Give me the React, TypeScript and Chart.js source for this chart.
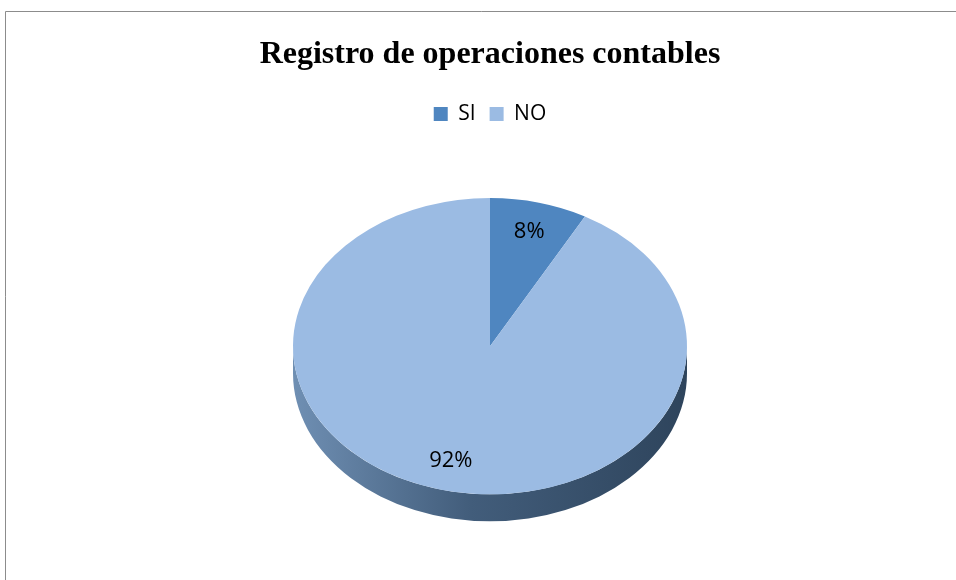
import React, { useEffect, useRef } from 'react';
import { Chart, registerables } from 'chart.js';

Chart.register(...registerables);

const TITLE = 'Registro de operaciones contables';
const categories = ['SI', 'NO'];
const values = [8, 92];
const sliceColors = ['#4f86c0', '#9bbbe3'];
const sideGradients = [
  ['#5a82ad', '#34597f', '#284566'],
  ['#6f8fb3', '#425d7b', '#2e445c'],
];

const SQUASH = 0.752;
const DEPTH = 27;
const LABEL_FONT = '"Open Sans", "Noto Sans", sans-serif';

const pie3d = {
  id: 'pie3d',
  beforeDraw(chart: any) {
    const ctx = chart.ctx;
    ctx.save();
    ctx.fillStyle = '#ffffff';
    ctx.fillRect(0, 0, chart.width, chart.height);
    ctx.strokeStyle = '#8c8c8c';
    ctx.lineWidth = 1;
    ctx.beginPath();
    ctx.moveTo(5.5, chart.height + 5);
    ctx.lineTo(5.5, 11.5);
    ctx.lineTo(chart.width + 5, 11.5);
    ctx.stroke();
    ctx.restore();
  },
  beforeDatasetsDraw(chart: any) {
    const ctx = chart.ctx;
    const arcs = chart.getDatasetMeta(0).data as any[];
    ctx.save();
    if (!arcs.length) return;
    const { x: cx, y: cy, outerRadius: r } = arcs[0];
    const ry = r * SQUASH;
    const TWO_PI = Math.PI * 2;
    arcs.forEach((arc: any, i: number) => {
      const { startAngle, endAngle } = arc;
      for (const k of [-1, 0, 1]) {
        const s = Math.max(startAngle, k * TWO_PI);
        const e = Math.min(endAngle, k * TWO_PI + Math.PI);
        if (e > s) {
          const a0 = s - k * TWO_PI;
          const a1 = e - k * TWO_PI;
          const g = ctx.createLinearGradient(cx - r, 0, cx + r, 0);
          const cols = sideGradients[i % sideGradients.length];
          g.addColorStop(0, cols[0]);
          g.addColorStop(0.45, cols[1]);
          g.addColorStop(1, cols[2]);
          ctx.beginPath();
          ctx.ellipse(cx, cy, r, ry, 0, a0, a1, false);
          ctx.ellipse(cx, cy + DEPTH, r, ry, 0, a1, a0, true);
          ctx.closePath();
          ctx.fillStyle = g;
          ctx.fill();
        }
      }
    });
    ctx.translate(cx, cy);
    ctx.scale(1, SQUASH);
    ctx.translate(-cx, -cy);
  },
  afterDatasetsDraw(chart: any) {
    const ctx = chart.ctx;
    ctx.restore();
    const arcs = chart.getDatasetMeta(0).data as any[];
    if (!arcs.length) return;
    const total = values.reduce((a, b) => a + b, 0);
    ctx.save();
    ctx.fillStyle = '#000000';
    ctx.font = `22px ${LABEL_FONT}`;
    ctx.textAlign = 'center';
    ctx.textBaseline = 'middle';
    arcs.forEach((arc: any, i: number) => {
      const mid = (arc.startAngle + arc.endAngle) / 2;
      const rr = arc.outerRadius * 0.8;
      const x = arc.x + rr * Math.cos(mid);
      const y = arc.y + rr * SQUASH * Math.sin(mid);
      ctx.fillText(`${Math.round((values[i] / total) * 100)}%`, x, y);
    });
    ctx.restore();
  },
};

export default function App() {
  const ref = useRef<HTMLCanvasElement>(null);
  useEffect(() => {
    if (!ref.current) return;
    const chart = new Chart(ref.current, {
      type: 'pie',
      data: {
        labels: categories,
        datasets: [
          {
            data: values,
            backgroundColor: sliceColors,
            borderWidth: 0,
            radius: 197,
          },
        ],
      },
      options: {
        responsive: false,
        animation: false,
        events: [],
        layout: { padding: { left: 24, right: 0, top: 0, bottom: 22 } },
        plugins: {
          title: {
            display: true,
            text: TITLE,
            color: '#000000',
            font: { family: '"Liberation Serif", "Times New Roman", serif', size: 32, weight: 'bold' },
            padding: { top: 36, bottom: 15 },
          },
          legend: {
            display: true,
            position: 'top',
            labels: {
              color: '#000000',
              font: { family: LABEL_FONT, size: 21 },
              boxWidth: 14,
              boxHeight: 14,
              padding: 14,
            },
          },
          tooltip: { enabled: false },
        },
      },
      plugins: [pie3d],
    });
    return () => chart.destroy();
  }, []);
  return (
    <div style={{ position: 'absolute', left: 0, top: 0, width: 956, height: 580 }}>
      <canvas ref={ref} width={956} height={580} style={{ display: 'block' }} />
    </div>
  );
}
